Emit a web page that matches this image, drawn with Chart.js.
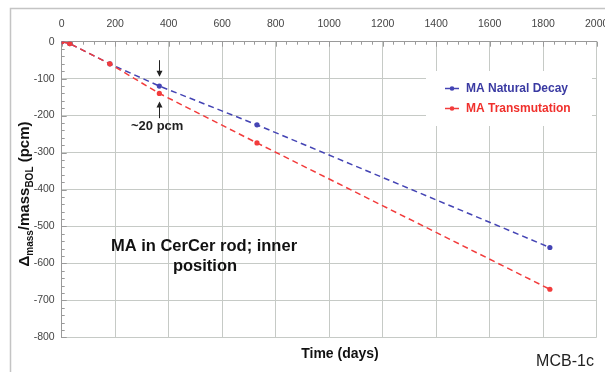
<!DOCTYPE html>
<html>
<head>
<meta charset="utf-8">
<script src="https://cdn.jsdelivr.net/npm/chart.js@4.4.1/dist/chart.umd.min.js"></script>
<style>
  html, body { margin: 0; padding: 0; background: #fff; }
  #wrap { width: 605px; height: 372px; position: relative; }
</style>
</head>
<body>
<div id="wrap"><canvas id="chart" width="605" height="372"></canvas></div>
<script>
// Data (days, pcm)
const days = [0, 30, 180, 365, 730, 1825];
const naturalDecay = [0, -5, -60, -120, -225, -557];
const transmutation = [0, -5, -60, -140, -274, -670];
const seriesNames = ['MA Natural Decay', 'MA Transmutation'];
const xTicks = [0, 200, 400, 600, 800, 1000, 1200, 1400, 1600, 1800, 2000];
const yTicks = [0, -100, -200, -300, -400, -500, -600, -700, -800];

// ~20 pcm annotation: day, arrow spans (pcm)
const noteDay = 365;
const arrowDown = [-50, -95];
const arrowUp = [-207, -162];

const BLUE = '#4444b4';
const RED = '#f23c3c';
const FONT = '"Liberation Sans", Arial, sans-serif';

const toPts = (xs, ys) => xs.map((x, i) => ({ x, y: ys[i] }));

// frame, minor ticks, legend, labels
const decor = {
  id: 'decor',
  beforeDraw(chart) {
    const ctx = chart.ctx;
    ctx.save();
    ctx.fillStyle = '#fff';
    ctx.fillRect(0, 0, chart.width, chart.height);
    ctx.strokeStyle = '#c4c4c4';
    ctx.lineWidth = 1.5;
    ctx.beginPath();
    ctx.moveTo(10.5, chart.height);
    ctx.lineTo(10.5, 8.5);
    ctx.lineTo(chart.width, 8.5);
    ctx.stroke();
    ctx.restore();
  },
  beforeDatasetsDraw(chart) {
    const { ctx, chartArea: a, scales: { x, y } } = chart;
    ctx.save();
    ctx.strokeStyle = '#9a9a9a';
    ctx.lineWidth = 1;
    ctx.beginPath();
    for (let d = 0; d <= 2000; d += 40) {
      const px = Math.round(x.getPixelForValue(d)) + 0.5;
      ctx.moveTo(px, a.top);
      ctx.lineTo(px, a.top + (d % 200 === 0 ? 5 : 3));
    }
    for (let v = 0; v >= -800; v -= 20) {
      const py = Math.round(y.getPixelForValue(v)) + 0.5;
      ctx.moveTo(a.left, py);
      ctx.lineTo(a.left + (v % 100 === 0 ? 5 : 3), py);
    }
    ctx.stroke();
    ctx.restore();
  },
  afterDatasetsDraw(chart) {
    const { ctx, scales: { x, y } } = chart;
    ctx.save();

    // legend box
    ctx.fillStyle = '#fff';
    ctx.fillRect(426, 71, 166, 55);
    const rows = [[BLUE, '#3a3aa2', 88.5], [RED, '#f0302c', 108.5]];
    rows.forEach(([c, tc, ly], i) => {
      ctx.strokeStyle = c;
      ctx.lineWidth = 1.5;
      ctx.beginPath();
      ctx.moveTo(445, ly);
      ctx.lineTo(459, ly);
      ctx.stroke();
      ctx.fillStyle = c;
      ctx.beginPath();
      ctx.arc(452, ly, 2.3, 0, Math.PI * 2);
      ctx.fill();
      ctx.fillStyle = tc;
      ctx.font = 'bold 12px ' + FONT;
      ctx.textBaseline = 'middle';
      ctx.textAlign = 'left';
      ctx.fillText(seriesNames[i], 466, ly);
    });

    // ~20 pcm arrows
    const ax = Math.round(x.getPixelForValue(noteDay)) + 0.5;
    ctx.strokeStyle = '#222';
    ctx.fillStyle = '#222';
    ctx.lineWidth = 1;
    const arrow = (from, to) => {
      const y0 = y.getPixelForValue(from), y1 = y.getPixelForValue(to);
      const dir = Math.sign(y1 - y0);
      ctx.beginPath();
      ctx.moveTo(ax, y0);
      ctx.lineTo(ax, y1 - dir * 5);
      ctx.stroke();
      ctx.beginPath();
      ctx.moveTo(ax - 3, y1 - dir * 6);
      ctx.lineTo(ax + 3, y1 - dir * 6);
      ctx.lineTo(ax, y1);
      ctx.closePath();
      ctx.fill();
    };
    arrow(arrowDown[0], arrowDown[1]);
    arrow(arrowUp[0], arrowUp[1]);
    ctx.font = 'bold 13px ' + FONT;
    ctx.textAlign = 'left';
    ctx.textBaseline = 'middle';
    ctx.fillText('~20 pcm', 131, 126);

    // inset label
    ctx.fillStyle = '#111';
    ctx.font = 'bold 16.5px ' + FONT;
    ctx.textAlign = 'center';
    ctx.fillText('MA in CerCer rod; inner', 204, 246);
    ctx.fillText('position', 205, 266);

    // axis titles
    ctx.font = 'bold 14px ' + FONT;
    ctx.fillText('Time (days)', 340, 354);
    ctx.font = '16px ' + FONT;
    ctx.fillStyle = '#222';
    ctx.fillText('MCB-1c', 565, 362);

    // rotated y title with subscripts
    const parts = [
      ['\u0394', 15, 0], ['mass', 10, 4], ['/mass', 15, 0], ['BOL', 10, 4], [' (pcm)', 15, 0]
    ];
    let total = 0;
    parts.forEach(p => { ctx.font = 'bold ' + p[1] + 'px ' + FONT; total += ctx.measureText(p[0]).width; });
    ctx.translate(29, 194);
    ctx.rotate(-Math.PI / 2);
    ctx.textAlign = 'left';
    ctx.textBaseline = 'alphabetic';
    ctx.fillStyle = '#111';
    let cx = -total / 2;
    parts.forEach(p => {
      ctx.font = 'bold ' + p[1] + 'px ' + FONT;
      ctx.fillText(p[0], cx, p[2]);
      cx += ctx.measureText(p[0]).width;
    });
    ctx.restore();
  }
};

const lineSet = (label, ys, color, order) => ({
  label,
  data: toPts(days, ys),
  borderColor: color,
  backgroundColor: color,
  borderWidth: 1.5,
  borderDash: [6, 4],
  pointRadius: 2.6,
  pointBorderWidth: 0,
  pointBackgroundColor: color,
  tension: 0,
  order
});

new Chart(document.getElementById('chart'), {
  type: 'line',
  data: {
    datasets: [
      lineSet(seriesNames[0], naturalDecay, BLUE, 1),
      lineSet(seriesNames[1], transmutation, RED, 0)
    ]
  },
  options: {
    responsive: false,
    animation: false,
    layout: { padding: { left: 0, top: 0, right: 8.3, bottom: 34.7 } },
    plugins: { legend: { display: false }, tooltip: { enabled: false } },
    scales: {
      x: {
        type: 'linear',
        position: 'top',
        min: 0, max: 2000,
        afterBuildTicks: s => { s.ticks = xTicks.map(v => ({ value: v })); },
        ticks: { color: '#444', padding: 11, font: { family: FONT, size: 10.5 }, maxRotation: 0, callback: v => String(v) },
        grid: { color: '#c6cac6', lineWidth: 1, drawTicks: false },
        border: { color: '#9a9a9a' },
        afterFit: s => { s.height = 41.7; s.paddingLeft = 0; s.paddingRight = 0; }
      },
      y: {
        type: 'linear',
        min: -800, max: 0,
        afterBuildTicks: s => { s.ticks = yTicks.map(v => ({ value: v })); },
        ticks: { color: '#444', padding: 7, font: { family: FONT, size: 10.5 }, callback: v => String(v) },
        grid: { color: '#c6cac6', lineWidth: 1, drawTicks: false },
        border: { color: '#9a9a9a' },
        afterFit: s => { s.width = 61.7; s.paddingTop = 0; s.paddingBottom = 0; }
      }
    }
  },
  plugins: [decor]
});
</script>
</body>
</html>
